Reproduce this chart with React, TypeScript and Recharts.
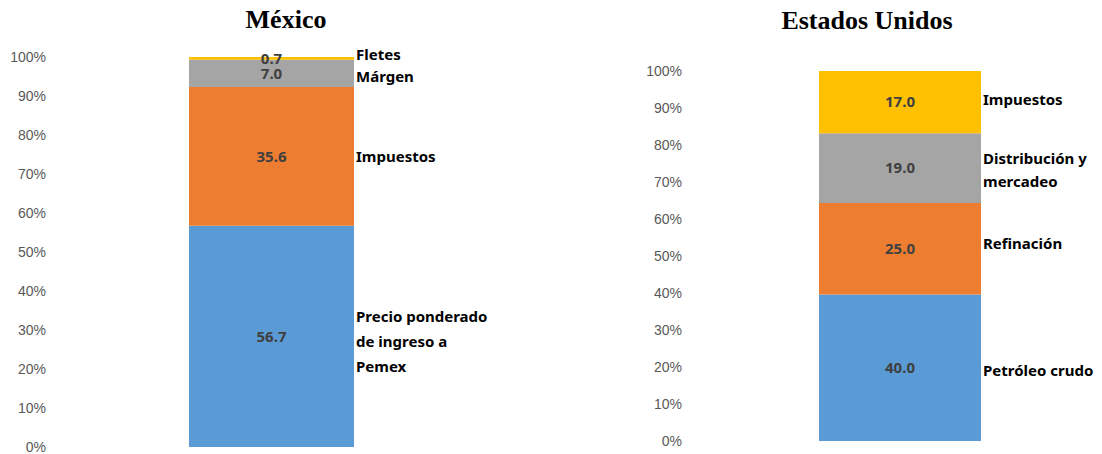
import React from "react";
import { BarChart, Bar, XAxis, YAxis, LabelList } from "recharts";

// México: price composition (bottom to top)
const mxSeries = [
  ["Precio ponderado", "de ingreso a", "Pemex"],
  ["Impuestos"],
  ["Márgen"],
  ["Fletes"],
];
const mxValues = [56.7, 35.6, 7.0, 0.7];

// Estados Unidos (bottom to top)
const usSeries = [
  ["Petróleo crudo"],
  ["Refinación"],
  ["Distribución y", "mercadeo"],
  ["Impuestos"],
];
const usValues = [40.0, 25.0, 19.0, 17.0];

const pctTicks = [0, 0.1, 0.2, 0.3, 0.4, 0.5, 0.6, 0.7, 0.8, 0.9, 1];
const colors = ["#5B9BD5", "#ED7D31", "#A5A5A5", "#FFC000"];

const tickStyle = { fill: "#595959", fontSize: 14, fontFamily: "Liberation Sans, Arial, sans-serif" };
const labelFont = "Noto Sans, sans-serif";

function toRow(name: string, values: number[]) {
  const row: Record<string, string | number> = { name };
  values.forEach((v, i) => (row[`s${i}`] = v));
  return row;
}

function sideLabel(lines: string[], dy: number, lineHeight: number) {
  return (props: any) => {
    const box = props.viewBox ?? props;
    const { x, y, width, height } = box;
    const cy = y + height / 2 + dy - ((lines.length - 1) * lineHeight) / 2;
    return (
      <text
        x={x + width + 2}
        y={cy}
        fill="#000"
        fontSize={15}
        fontWeight={700}
        fontFamily={labelFont}
      >
        {lines.map((l, i) => (
          <tspan key={i} x={x + width + 2} dy={i === 0 ? "0.35em" : lineHeight}>
            {l}
          </tspan>
        ))}
      </text>
    );
  };
}

function StackChart({
  name,
  series,
  values,
  width,
  height,
  margin,
  yWidth,
  tickDx,
  barSize,
  offsets,
  lineHeight,
}: {
  name: string;
  series: string[][];
  values: number[];
  width: number;
  height: number;
  margin: { top: number; right: number; bottom: number; left: number };
  yWidth: number;
  tickDx: number;
  barSize: number;
  offsets: number[];
  lineHeight: number;
}) {
  const data = [toRow(name, values)];
  return (
    <BarChart width={width} height={height} data={data} margin={margin} stackOffset="expand">
      <XAxis dataKey="name" hide />
      <YAxis
        width={yWidth}
        domain={[0, 1]}
        ticks={pctTicks}
        interval={0}
        tickFormatter={(v: number) => `${Math.round(v * 100)}%`}
        axisLine={false}
        tickLine={false}
        tick={{ ...tickStyle, dx: tickDx }}
      />
      {values.map((_, i) => (
        <Bar
          key={i}
          dataKey={`s${i}`}
          stackId="a"
          fill={colors[i]}
          barSize={barSize}
          isAnimationActive={false}
        >
          <LabelList
            dataKey={`s${i}`}
            position="center"
            formatter={(v: any) => Number(v).toFixed(1)}
            fill="#404040"
            fontSize={15}
            fontWeight={700}
            fontFamily={labelFont}
          />
          <LabelList dataKey={`s${i}`} content={sideLabel(series[i], offsets[i], lineHeight)} />
        </Bar>
      ))}
    </BarChart>
  );
}

export default function App() {
  return (
    <div style={{ position: "absolute", left: 0, top: 0, width: 1102, height: 454, background: "#fff" }}>
      <div style={{ position: "absolute", left: 0, top: 0 }}>
        <StackChart
          name="México"
          series={mxSeries}
          values={mxValues}
          width={560}
          height={454}
          margin={{ top: 57, right: 71, bottom: 7, left: 0 }}
          yWidth={54}
          tickDx={0}
          barSize={165}
          offsets={[5, 0, 3, -4]}
          lineHeight={25}
        />
      </div>
      <div style={{ position: "absolute", left: 560, top: 0 }}>
        <StackChart
          name="Estados Unidos"
          series={usSeries}
          values={usValues}
          width={542}
          height={454}
          margin={{ top: 71, right: 12, bottom: 13, left: 0 }}
          yWidth={150}
          tickDx={-20}
          barSize={162}
          offsets={[3, -5, 2, -2]}
          lineHeight={23}
        />
      </div>
      <svg
        width={1102}
        height={454}
        style={{ position: "absolute", left: 0, top: 0, pointerEvents: "none" }}
      >
        <text
          x={286}
          y={28}
          textAnchor="middle"
          fontFamily="Liberation Serif, Times New Roman, serif"
          fontWeight={700}
          fontSize={26}
          fill="#000"
        >
          México
        </text>
        <text
          x={867}
          y={29}
          textAnchor="middle"
          fontFamily="Liberation Serif, Times New Roman, serif"
          fontWeight={700}
          fontSize={26}
          fill="#000"
        >
          Estados Unidos
        </text>
      </svg>
    </div>
  );
}
